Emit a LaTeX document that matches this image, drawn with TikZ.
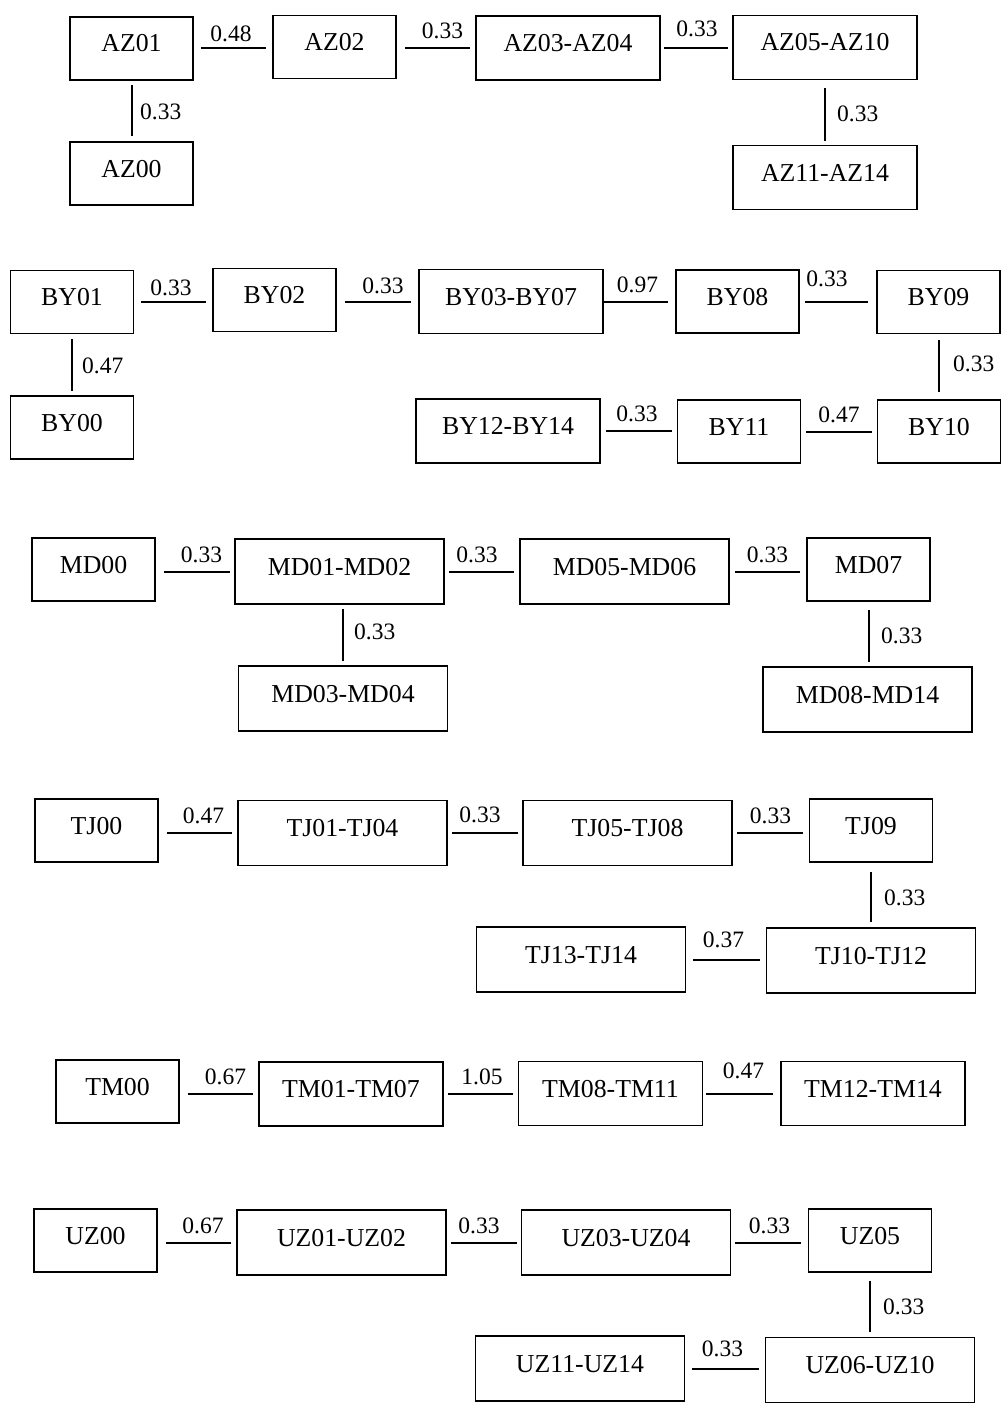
\documentclass[tikz,border=0pt]{standalone}
\usepackage{fontspec}
\setmainfont{Liberation Serif}
\tikzset{
  box/.style={draw, line width=1.9pt, minimum width=123pt, minimum height=63pt, inner sep=0pt,
    text height=17pt, text depth=10pt, font=\fontsize{25.8}{30}\selectfont},
  wide/.style={box, minimum width=184pt, minimum height=64pt},
  wider/.style={box, minimum width=209pt, minimum height=65pt},
  conn/.style={line width=2pt},
  lbl/.style={inner sep=0pt, anchor=base, font=\fontsize{23.5}{28}\selectfont},
  vlbl/.style={lbl, anchor=base west},
}
\begin{document}
\begin{tikzpicture}[x=1pt, y=-1pt]
\useasboundingbox (0,0) rectangle (1006,1405);
% ---------- AZ ----------
\node[box]  (AZ01)   at (131.5,48.5) {AZ01};
\node[box]  (AZ02)   at (334.5,47)   {AZ02};
\node[wide] (AZ0304) at (568,48)     {AZ03-AZ04};
\node[wide] (AZ0510) at (825,47.5)   {AZ05-AZ10};
\node[box]  (AZ00)   at (131.5,173.5){AZ00};
\node[wide] (AZ1114) at (825,177.5)  {AZ11-AZ14};
\draw[conn, shorten <=7pt, shorten >=6pt] (AZ01.east) -- (AZ01.east -| AZ02.west);
\draw[conn, shorten <=8pt, shorten >=5pt] (AZ0304.west -| AZ02.east) -- (AZ0304.west);
\draw[conn, shorten <=3pt, shorten >=4pt] (AZ0304.east) -- (AZ0304.east -| AZ0510.west);
\draw[conn, shorten <=4pt, shorten >=5pt] (AZ01.south) -- (AZ01.south |- AZ00.north);
\draw[conn, shorten <=8pt, shorten >=4pt] (AZ0510.south) -- (AZ0510.south |- AZ1114.north);
\node[lbl]  (lAZa) at (231,42)   {0.48};
\node[lbl]  (lAZb) at (442.5,39) {0.33};
\node[lbl]  (lAZc) at (697,37)   {0.33};
\node[vlbl] (lAZd) at (140,119)  {0.33};
\node[vlbl] (lAZe) at (837,121)  {0.33};
% ---------- BY ----------
\node[box]  (BY01)   at (72,302)     {BY01};
\node[box]  (BY02)   at (274.5,300)  {BY02};
\node[wide] (BY0307) at (511,301.5)  {BY03-BY07};
\node[box]  (BY08)   at (737.5,301.5){BY08};
\node[box]  (BY09)   at (938.5,302)  {BY09};
\node[box]  (BY00)   at (72,427.5)   {BY00};
\node[wide] (BY1214) at (508,431)    {BY12-BY14};
\node[box]  (BY11)   at (739,431.5)  {BY11};
\node[box]  (BY10)   at (939,431.5)  {BY10};
\draw[conn, shorten <=7pt, shorten >=6pt] (BY01.east) -- (BY01.east -| BY02.west);
\draw[conn, shorten <=8pt, shorten >=7pt] (BY0307.west -| BY02.east) -- (BY0307.west);
\draw[conn, shorten >=7pt] (BY0307.east) -- (BY0307.east -| BY08.west);
\draw[conn, shorten <=5pt, shorten >=8pt] (BY08.east) -- (BY08.east -| BY09.west);
\draw[conn, shorten <=5pt, shorten >=4pt] (BY01.south) -- (BY01.south |- BY00.north);
\draw[conn, shorten <=6pt, shorten >=7pt] (BY10.north |- BY09.south) -- (BY10.north);
\draw[conn, shorten <=5pt, shorten >=5pt] (BY1214.east) -- (BY1214.east -| BY11.west);
\draw[conn, shorten <=5pt, shorten >=5pt] (BY11.east) -- (BY11.east -| BY10.west);
\node[lbl]  (lBYa) at (171,295)   {0.33};
\node[lbl]  (lBYb) at (383,293)   {0.33};
\node[lbl]  (lBYc) at (637.5,292) {0.97};
\node[lbl]  (lBYd) at (827,286)   {0.33};
\node[vlbl] (lBYe) at (82,373)    {0.47};
\node[vlbl] (lBYf) at (953,371)   {0.33};
\node[lbl]  (lBYg) at (637,421)   {0.33};
\node[lbl]  (lBYh) at (839,422)   {0.47};
% ---------- MD ----------
\node[box]   (MD00)   at (93.5,569.5)  {MD00};
\node[wider] (MD0102) at (339.5,571.5) {MD01-MD02};
\node[wider] (MD0506) at (624.5,571.5) {MD05-MD06};
\node[box]   (MD07)   at (868.5,569.5) {MD07};
\node[wider] (MD0304) at (343,698.5)   {MD03-MD04};
\node[wider] (MD0814) at (867.5,699.5) {MD08-MD14};
\draw[conn, shorten <=8pt, shorten >=4pt] (MD0102.west -| MD00.east) -- (MD0102.west);
\draw[conn, shorten <=4pt, shorten >=5pt] (MD0102.east) -- (MD0102.east -| MD0506.west);
\draw[conn, shorten <=5pt, shorten >=6pt] (MD0506.east) -- (MD0506.east -| MD07.west);
\draw[conn, shorten <=4pt, shorten >=4pt] (MD0304.north |- MD0102.south) -- (MD0304.north);
\draw[conn, shorten <=8pt, shorten >=4pt] (MD07.south) -- (MD07.south |- MD0814.north);
\node[lbl]  (lMDa) at (201.5,562) {0.33};
\node[lbl]  (lMDb) at (477,562)   {0.33};
\node[lbl]  (lMDc) at (767.5,562) {0.33};
\node[vlbl] (lMDd) at (354,639)   {0.33};
\node[vlbl] (lMDe) at (881,643)   {0.33};
% ---------- TJ ----------
\node[box]   (TJ00)   at (96.5,830.5) {TJ00};
\node[wider] (TJ0104) at (342.5,833)  {TJ01-TJ04};
\node[wider] (TJ0508) at (627.5,833)  {TJ05-TJ08};
\node[box]   (TJ09)   at (871,830.5)  {TJ09};
\node[wider] (TJ1012) at (871,960.5)  {TJ10-TJ12};
\node[wider] (TJ1314) at (581,959.5)  {TJ13-TJ14};
\draw[conn, shorten <=8pt, shorten >=5pt] (TJ0104.west -| TJ00.east) -- (TJ0104.west);
\draw[conn, shorten <=4pt, shorten >=4pt] (TJ0104.east) -- (TJ0104.east -| TJ0508.west);
\draw[conn, shorten <=4pt, shorten >=6pt] (TJ0508.east) -- (TJ0508.east -| TJ09.west);
\draw[conn, shorten <=9pt, shorten >=5pt] (TJ09.south) -- (TJ09.south |- TJ1012.north);
\draw[conn, shorten <=7pt, shorten >=6pt] (TJ1314.east) -- (TJ1314.east -| TJ1012.west);
\node[lbl]  (lTJa) at (203.5,823) {0.47};
\node[lbl]  (lTJb) at (480,822)   {0.33};
\node[lbl]  (lTJc) at (770.5,823) {0.33};
\node[vlbl] (lTJd) at (884,905)   {0.33};
\node[lbl]  (lTJe) at (723.5,947) {0.37};
% ---------- TM ----------
\node[box]  (TM00)   at (117.5,1091.5) {TM00};
\node[wide] (TM0107) at (351,1094)     {TM01-TM07};
\node[wide] (TM0811) at (610.5,1093.5) {TM08-TM11};
\node[wide] (TM1214) at (873,1093.5)   {TM12-TM14};
\draw[conn, shorten <=8pt, shorten >=5pt] (TM0107.west -| TM00.east) -- (TM0107.west);
\draw[conn, shorten <=4pt, shorten >=5pt] (TM0107.east) -- (TM0107.east -| TM0811.west);
\draw[conn, shorten <=3pt, shorten >=7pt] (TM0811.east) -- (TM0811.east -| TM1214.west);
\node[lbl] (lTMa) at (225.5,1084) {0.67};
\node[lbl] (lTMb) at (482,1084)   {1.05};
\node[lbl] (lTMc) at (743.5,1078) {0.47};
% ---------- UZ ----------
\node[box]   (UZ00)   at (95.5,1240.5)  {UZ00};
\node[wider] (UZ0102) at (341.5,1242.5) {UZ01-UZ02};
\node[wider] (UZ0304) at (626,1242.5)   {UZ03-UZ04};
\node[box]   (UZ05)   at (870,1240.5)   {UZ05};
\node[wider] (UZ0610) at (870,1370)     {UZ06-UZ10};
\node[wider] (UZ1114) at (580,1368.5)   {UZ11-UZ14};
\draw[conn, shorten <=8pt, shorten >=5pt] (UZ0102.west -| UZ00.east) -- (UZ0102.west);
\draw[conn, shorten <=4pt, shorten >=4pt] (UZ0102.east) -- (UZ0102.east -| UZ0304.west);
\draw[conn, shorten <=4pt, shorten >=7pt] (UZ0304.east) -- (UZ0304.east -| UZ05.west);
\draw[conn, shorten <=8pt, shorten >=5pt] (UZ05.south) -- (UZ05.south |- UZ0610.north);
\draw[conn, shorten <=7pt, shorten >=6pt] (UZ1114.east) -- (UZ1114.east -| UZ0610.west);
\node[lbl]  (lUZa) at (203,1233)   {0.67};
\node[lbl]  (lUZb) at (479,1233)   {0.33};
\node[lbl]  (lUZc) at (769.5,1233) {0.33};
\node[vlbl] (lUZd) at (883,1314)   {0.33};
\node[lbl]  (lUZe) at (722.5,1356) {0.33};
\end{tikzpicture}
\end{document}
